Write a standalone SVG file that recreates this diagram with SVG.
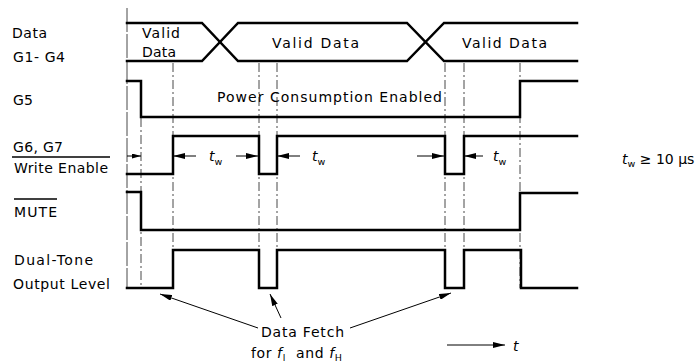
<svg xmlns="http://www.w3.org/2000/svg" width="696" height="363" viewBox="0 0 696 363">
  <defs>
    <style>
      .lbl { font-family: "DejaVu Sans", "Liberation Sans", sans-serif; font-size: 14px; fill: #000; }
      .it { font-style: italic; }
      .sub { font-size: 9.5px; }
      .wave { fill: none; stroke: #000; stroke-width: 2.5; stroke-linejoin: miter; stroke-linecap: square; }
      .grid { fill: none; stroke: #333; stroke-width: 0.9; stroke-dasharray: 9 3 2 3; }
      .edge { fill: none; stroke: #333; stroke-width: 0.9; stroke-dasharray: 24 2; }
      .rule { fill: none; stroke: #000; stroke-width: 1.3; }
      .dim { fill: none; stroke: #000; stroke-width: 1; }
    </style>
    <marker id="head" viewBox="0 0 12 6" refX="12" refY="3" markerWidth="12" markerHeight="6" markerUnits="userSpaceOnUse" orient="auto">
      <path d="M0,0 L12,3 L0,6 Z" fill="#000"/>
    </marker>
    <marker id="headS" viewBox="0 0 9 5" refX="9" refY="2.5" markerWidth="9" markerHeight="5" markerUnits="userSpaceOnUse" orient="auto">
      <path d="M0,0 L9,2.5 L0,5 Z" fill="#000"/>
    </marker>
  </defs>

  <!-- signal names -->
  <g id="label-data">
    <text class="lbl" x="12" y="38" textLength="35" lengthAdjust="spacing">Data</text>
    <text class="lbl" x="13" y="62" textLength="52" lengthAdjust="spacing">G1- G4</text>
  </g>
  <g id="label-g5">
    <text class="lbl" x="13" y="105" textLength="20" lengthAdjust="spacing">G5</text>
  </g>
  <g id="label-we">
    <text class="lbl" x="13" y="152" textLength="50" lengthAdjust="spacing">G6, G7</text>
    <line class="rule" x1="12" y1="157" x2="110" y2="157"/>
    <text class="lbl" x="14" y="173" textLength="94" lengthAdjust="spacing">Write Enable</text>
  </g>
  <g id="label-mute">
    <line class="rule" x1="14" y1="199" x2="57" y2="199"/>
    <text class="lbl" x="14" y="217" textLength="43" lengthAdjust="spacing">MUTE</text>
  </g>
  <g id="label-tone">
    <text class="lbl" x="14" y="265" textLength="79" lengthAdjust="spacing">Dual-Tone</text>
    <text class="lbl" x="13" y="289" textLength="97" lengthAdjust="spacing">Output Level</text>
  </g>

  <!-- timing reference lines -->
  <g id="gridlines">
    <line class="edge" x1="127" y1="8" x2="127" y2="288"/>
    <line class="grid" x1="141" y1="84" x2="141" y2="288"/>
    <line class="grid" x1="173" y1="63" x2="173" y2="288"/>
    <line class="grid" x1="259" y1="63" x2="259" y2="288"/>
    <line class="grid" x1="277" y1="63" x2="277" y2="288"/>
    <line class="grid" x1="445" y1="63" x2="445" y2="288"/>
    <line class="grid" x1="464" y1="63" x2="464" y2="288"/>
    <line class="grid" x1="520" y1="63" x2="520" y2="288"/>
  </g>

  <!-- waveforms -->
  <g id="wave-data">
    <path class="wave" d="M127,23 H202 L238,61 H407 L444,23 H577"/>
    <path class="wave" d="M127,61 H202 L238,23 H407 L444,61 H577"/>
    <text class="lbl" x="142" y="38" textLength="38" lengthAdjust="spacing">Valid</text>
    <text class="lbl" x="142" y="57" textLength="34" lengthAdjust="spacing">Data</text>
    <text class="lbl" x="272" y="48" textLength="87" lengthAdjust="spacing">Valid Data</text>
    <text class="lbl" x="462" y="48" textLength="85" lengthAdjust="spacing">Valid Data</text>
  </g>
  <g id="wave-g5">
    <path class="wave" d="M127,81 H141 V117 H520 V81 H577"/>
    <text class="lbl" x="217" y="102" textLength="225" lengthAdjust="spacing">Power Consumption Enabled</text>
  </g>
  <g id="wave-we">
    <path class="wave" d="M127,174 H173 V136 H259 V174 H277 V136 H445 V174 H464 V136 H577"/>
  </g>
  <g id="wave-mute">
    <path class="wave" d="M127,192 H141 V230 H520 V193 H577"/>
  </g>
  <g id="wave-tone">
    <path class="wave" d="M127,288 H173 V250 H259 V288 H277 V250 H445 V288 H464 V250 H521 V288 H577"/>
  </g>

  <!-- pulse width dimensions -->
  <g id="connectors">
    <line class="dim" x1="127" y1="156" x2="141" y2="156" marker-end="url(#headS)"/>
    <line class="dim" x1="196" y1="156" x2="173" y2="156" marker-end="url(#head)"/>
    <line class="dim" x1="236" y1="156" x2="258" y2="156" marker-end="url(#head)"/>
    <line class="dim" x1="300" y1="156" x2="277" y2="156" marker-end="url(#head)"/>
    <line class="dim" x1="417" y1="156" x2="444" y2="156" marker-end="url(#head)"/>
    <line class="dim" x1="483" y1="156" x2="464" y2="156" marker-end="url(#head)"/>
    <!-- data fetch pointers -->
    <line class="dim" x1="258" y1="328" x2="160" y2="294" marker-end="url(#head)"/>
    <line class="dim" x1="281" y1="318" x2="270" y2="294" marker-end="url(#head)"/>
    <line class="dim" x1="350" y1="328" x2="451" y2="293" marker-end="url(#head)"/>
    <!-- time axis -->
    <line class="dim" x1="447" y1="345" x2="505" y2="345" marker-end="url(#head)"/>
  </g>

  <g id="tw-labels">
    <text class="lbl" x="209" y="161"><tspan class="it">t</tspan><tspan class="sub" dy="4">w</tspan></text>
    <text class="lbl" x="312" y="161"><tspan class="it">t</tspan><tspan class="sub" dy="4">w</tspan></text>
    <text class="lbl" x="493" y="161"><tspan class="it">t</tspan><tspan class="sub" dy="4">w</tspan></text>
  </g>

  <g id="note-tw">
    <text class="lbl" x="622" y="164"><tspan class="it">t</tspan><tspan class="sub" dy="3">w</tspan><tspan dy="-3"> ≥ 10 µs</tspan></text>
  </g>

  <g id="note-fetch">
    <text class="lbl" x="261" y="337" textLength="83" lengthAdjust="spacing">Data Fetch</text>
    <text class="lbl" x="251" y="358" letter-spacing="0.6">for <tspan class="it">f</tspan><tspan class="sub" dy="3">l</tspan><tspan dy="-3">&#160; and </tspan><tspan class="it">f</tspan><tspan class="sub" dy="3">H</tspan></text>
  </g>

  <g id="time-axis">
    <text class="lbl it" x="513" y="351">t</text>
  </g>
</svg>
